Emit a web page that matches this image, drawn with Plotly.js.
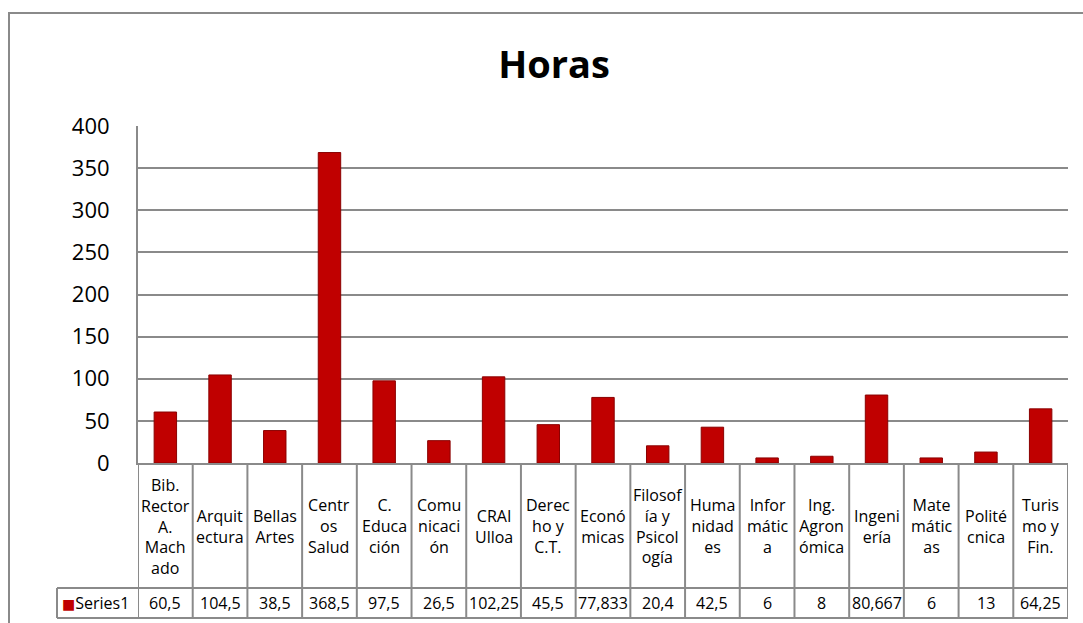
<!DOCTYPE html>
<html>
<head>
<meta charset="utf-8">
<script src="https://cdn.plot.ly/plotly-3.0.1.min.js"></script>
<style>html,body{margin:0;padding:0;background:#fff;}#chart{width:1083px;height:623px;}</style>
</head>
<body>
<div id="chart"></div>
<script>
const categories = ["Bib. Rector A. Machado","Arquitectura","Bellas Artes","Centros Salud","C. Educación","Comunicación","CRAI Ulloa","Derecho y C.T.","Económicas","Filosofía y Psicología","Humanidades","Informática","Ing. Agronómica","Ingeniería","Matemáticas","Politécnica","Turismo y Fin."];
const categoryLabels = ["Bib.<br>Rector<br>A.<br>Mach<br>ado","Arquit<br>ectura","Bellas<br>Artes","Centr<br>os<br>Salud","C.<br>Educa<br>ción","Comu<br>nicaci<br>ón","CRAI<br>Ulloa","Derec<br>ho y<br>C.T.","Econó<br>micas","Filosof<br>ía y<br>Psicol<br>ogía","Huma<br>nidad<br>es","Infor<br>mátic<br>a","Ing.<br>Agron<br>ómica","Ingeni<br>ería","Mate<br>mátic<br>as","Polité<br>cnica","Turis<br>mo y<br>Fin."];
const values = [60.5,104.5,38.5,368.5,97.5,26.5,102.25,45.5,77.833,20.4,42.5,6,8,80.667,6,13,64.25];
const valueLabels = ["60,5","104,5","38,5","368,5","97,5","26,5","102,25","45,5","77,833","20,4","42,5","6","8","80,667","6","13","64,25"];
const seriesName = "Series1";
const yTicks = [0,50,100,150,200,250,300,350,400];

const W = 1083, H = 623;
const mL = 138, mR = 15, mT = 126, mB = 160;
const plotH = H - mT - mB, plotW = W - mL - mR;
const py = p => (H - mB - p) / plotH;   // pixel y -> paper y
const px = p => (p - mL) / plotW;       // pixel x -> paper x

const lineCol = "#8a8a8a";
const font = "Open Sans, Liberation Sans, sans-serif";

const idx = categories.map((c, i) => i);

const shapes = [];
shapes.push({type:"rect", xref:"paper", yref:"paper", x0:px(9), x1:px(1110), y0:py(640), y1:py(13), line:{color:lineCol, width:2}, layer:"below"});
for (let i = 0; i <= categories.length; i++) {
  shapes.push({type:"line", xref:"x", yref:"paper", x0:i-0.5, x1:i-0.5, y0:py(618), y1:0, line:{color:lineCol, width:2}});
}
shapes.push({type:"line", xref:"paper", yref:"paper", x0:px(57), x1:1, y0:py(588), y1:py(588), line:{color:lineCol, width:2}});
shapes.push({type:"line", xref:"paper", yref:"paper", x0:px(57), x1:1, y0:py(618), y1:py(618), line:{color:lineCol, width:2}});
shapes.push({type:"line", xref:"paper", yref:"paper", x0:px(57), x1:px(57), y0:py(588), y1:py(618), line:{color:lineCol, width:2}});

const annotations = [];
idx.forEach(i => {
  annotations.push({xref:"x", yref:"paper", x:i, y:py(526), text:categoryLabels[i], showarrow:false, xanchor:"center", yanchor:"middle", align:"center", font:{family:font, size:16, color:"#000"}});
  annotations.push({xref:"x", yref:"paper", x:i, y:py(603), text:valueLabels[i], showarrow:false, xanchor:"center", yanchor:"middle", font:{family:font, size:16, color:"#000"}});
});
annotations.push({xref:"paper", yref:"paper", x:px(60), y:py(603), text:"<span style='color:#c00000;font-family:DejaVu Sans;font-size:14px'>■</span>" + seriesName, showarrow:false, xanchor:"left", yanchor:"middle", font:{family:font, size:16, color:"#000"}});

const trace = {
  type:"bar",
  x: idx,
  y: values,
  name: seriesName,
  width: 0.41,
  marker:{color:"#c00000", line:{color:"#8a0000", width:1}},
  hoverinfo:"y"
};

const layout = {
  width: W, height: H,
  margin:{l:mL, r:mR, t:mT, b:mB, pad:0},
  paper_bgcolor:"#fff", plot_bgcolor:"#fff",
  showlegend:false,
  title:{text:"<b>Horas</b>", x:554/W, xref:"container", xanchor:"center", y:1-65/H, yref:"container", yanchor:"middle", font:{family:font, size:38, color:"#000"}},
  xaxis:{type:"linear", range:[-0.5, categories.length-0.5], showticklabels:false, showgrid:false, zeroline:false, showline:true, linecolor:lineCol, linewidth:2, ticks:"", fixedrange:true},
  yaxis:{range:[0,400], tickvals:yTicks, ticktext:yTicks.map(String), showgrid:true, gridcolor:lineCol, gridwidth:2, zeroline:false, showline:true, linecolor:lineCol, linewidth:2, ticks:"", ticklabelstandoff:22, tickfont:{family:font, size:22, color:"#000"}, fixedrange:true},
  shapes: shapes,
  annotations: annotations,
  bargap: 0
};

Plotly.newPlot("chart", [trace], layout, {displayModeBar:false, staticPlot:true});
</script>
</body>
</html>
